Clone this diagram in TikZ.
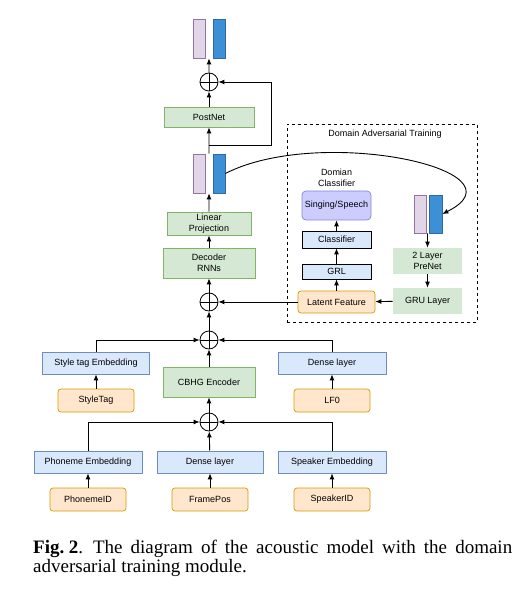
\documentclass[tikz,border=0pt]{standalone}
\usepackage{fontspec}
\setmainfont{Liberation Serif}
\setsansfont{Liberation Sans}
\usetikzlibrary{arrows.meta,positioning,calc}
\definecolor{embfill}{HTML}{DAE8FC}
\definecolor{embline}{HTML}{6C8EBF}
\definecolor{grnfill}{HTML}{D5E8D4}
\definecolor{grnline}{HTML}{82B366}
\definecolor{inpfill}{HTML}{FFE6CC}
\definecolor{inpline}{HTML}{D79B00}
\definecolor{vecafill}{HTML}{E1D5E7}
\definecolor{vecaline}{HTML}{9673A6}
\definecolor{vecbfill}{HTML}{3D8FD6}
\definecolor{vecbline}{HTML}{2A6DA6}
\definecolor{clsfill}{HTML}{CCCCFF}
\definecolor{clsline}{HTML}{8585D6}

\begin{document}
\begin{tikzpicture}[x=1pt,y=-1pt,
  box/.style={rectangle,draw,line width=0.7pt,inner sep=1pt,align=center,font=\sffamily\fontsize{9}{10.5}\selectfont},
  emb/.style={box,draw=embline,fill=embfill,minimum width=108pt,minimum height=22pt},
  grn/.style={box,draw=grnline,fill=grnfill},
  inp/.style={box,draw=inpline,fill=inpfill,rounded corners=3pt,minimum width=76pt,minimum height=23pt},
  dat/.style={box,draw=black,fill=embfill,minimum width=69pt},
  pre/.style={box,draw=none,fill=grnfill,minimum width=69pt,minimum height=26pt},
  sumnd/.style={circle,draw,line width=0.8pt,minimum size=18pt,inner sep=0pt,
    path picture={\draw[line width=0.8pt] (path picture bounding box.north) -- (path picture bounding box.south)
      (path picture bounding box.west) -- (path picture bounding box.east);}},
  veca/.style={rectangle,draw=vecaline,fill=vecafill,line width=0.7pt,minimum width=12pt,minimum height=39pt,inner sep=0pt},
  vecb/.style={rectangle,draw=vecbline,fill=vecbfill,line width=0.7pt,minimum width=12pt,minimum height=39pt,inner sep=0pt},
  link/.style={-{Latex[length=6pt,width=5pt]},line width=0.9pt}
]
\useasboundingbox (0,0) rectangle (523,593);
% decoder side
\node[veca] (outa) at (199,38.5) {};
\node[vecb] (outb) at (219,38.5) {};
\node[sumnd] (sumtop) at (209,82) {};
\node[grn,minimum width=90pt,minimum height=20pt] (post) at (209,117) {PostNet};
\node[veca] (mida) at (199,173.5) {};
\node[vecb] (midb) at (219,173.5) {};
\node[grn,minimum width=84pt,minimum height=23pt] (proj) at (209,223.5) {Linear\\Projection};
\node[grn,minimum width=92pt,minimum height=30pt] (dec) at (209,263) {Decoder\\RNNs};
\node[sumnd] (sumlat) at (209,302) {};
\node[sumnd] (sumenc) at (209,340) {};
\node[grn,minimum width=92pt,minimum height=30pt] (cbhg) at (209,382) {CBHG Encoder};
\node[sumnd] (sumin) at (209,422) {};
% encoder inputs
\node[emb,minimum width=107pt] (styemb) at (96,363) {Style tag Embedding};
\node[inp] (stytag) at (96,400.5) {StyleTag};
\node[emb] (dense1) at (332,363) {Dense layer};
\node[inp] (lf0) at (332,400.5) {LF0};
\node[emb] (phemb) at (88,462) {Phoneme Embedding};
\node[emb,minimum width=106pt] (dense2) at (210,462) {Dense layer};
\node[emb] (spkemb) at (332,462) {Speaker Embedding};
\node[inp] (phid) at (88,499.5) {PhonemeID};
\node[inp] (frpos) at (210,499.5) {FramePos};
\node[inp] (spkid) at (332,499.5) {SpeakerID};
% domain adversarial training
\node[rectangle,draw,dashed,line width=0.6pt,minimum width=190pt,minimum height=198pt] (datbox) at (382,223) {};
\node[font=\sffamily\fontsize{9}{10.5}\selectfont] (dattitle) at (385,134) {Domain Adversarial Training};
\node[align=center,font=\sffamily\fontsize{9}{10.5}\selectfont] (domcls) at (336.5,178) {Domian\\Classifier};
\node[box,draw=clsline,fill=clsfill,rounded corners=4pt,minimum width=69pt,minimum height=29pt] (sing) at (336.5,205.5) {Singing/Speech};
\node[dat,minimum height=17pt] (cls) at (336.5,239.5) {Classifier};
\node[dat,minimum height=15pt] (grl) at (336.5,271.5) {GRL};
\node[inp,minimum width=77pt,minimum height=22pt] (latent) at (336.5,302) {Latent Feature};
\node[veca,minimum height=38pt] (ra) at (420,214) {};
\node[vecb,minimum width=13pt,minimum height=38pt] (rb) at (435.5,214) {};
\node[pre] (prenet) at (427.5,261) {2 Layer\\PreNet};
\node[pre] (gru) at (427.5,301) {GRU Layer};
% gaps between vector pairs
\coordinate (outgap) at ($(outa.south east)!0.5!(outb.south west)$);
\coordinate (midtop) at ($(mida.north east)!0.5!(midb.north west)$);
\coordinate (midbot) at ($(mida.south east)!0.5!(midb.south west)$);
\coordinate (rgap) at ($(ra.south east)!0.5!(rb.south west)$);
\coordinate (fb) at (209,145);
% links
\draw[link] (sumtop) -- (outgap);
\draw[link] (midtop) -- (post);
\draw[link] (post) -- (sumtop);
\draw[link] (fb) -- ++(62,0) |- (sumtop);
\foreach \a/\b in {proj/midbot,dec/proj,sumlat/dec,sumenc/sumlat,cbhg/sumenc,sumin/cbhg,
  dense2/sumin,stytag/styemb,lf0/dense1,phid/phemb,frpos/dense2,spkid/spkemb,
  latent/grl,grl/cls,cls/sing,prenet/gru,rgap/prenet,gru/latent,latent/sumlat}{
  \draw[link] (\a) -- (\b);
}
\draw[link] (styemb.north) |- (sumenc);
\draw[link] (dense1.north) |- (sumenc);
\draw[link] (phemb.north) |- (sumin);
\draw[link] (spkemb.north) |- (sumin);
\draw[link] (midb.east) .. controls (320,125) and (530,170) .. (rb.east);
% caption
\node[anchor=base west,inner sep=0pt,text width=479pt,align=justify,font=\fontsize{19}{19}\selectfont] (cap) at (33,553)
  {\textbf{Fig.\hspace{4.5pt}2}.\hspace{10pt}The diagram of the acoustic model with the domain\linebreak adversarial training module.};
\end{tikzpicture}
\end{document}
